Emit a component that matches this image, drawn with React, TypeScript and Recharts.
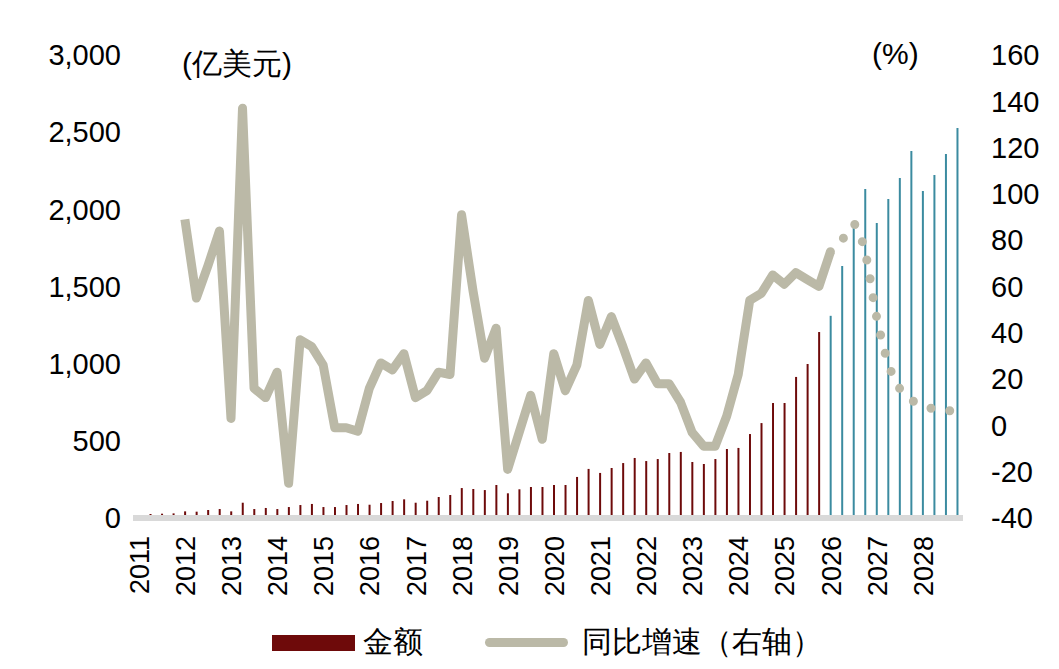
import { ComposedChart, Bar, Line, XAxis, YAxis, Cell } from 'recharts';

const years = ['2011', '2012', '2013', '2014', '2015', '2016', '2017', '2018', '2019', '2020', '2021', '2022', '2023', '2024', '2025', '2026', '2027', '2028'];

// 金额 (亿美元), 2011Q1-2025Q4 actual
const amountActual = [
  20, 26, 28, 30, 43, 41, 52, 58, 43, 99, 58, 65, 58, 71, 84, 91, 71, 71, 84, 91,
  86, 97, 110, 121, 99, 112, 136, 149, 194, 188, 181, 214, 160, 186, 201, 201, 214, 214, 266, 318,
  292, 324, 356, 389, 369, 382, 421, 428, 363, 350, 382, 447, 454, 544, 615, 745, 745, 914, 998, 1205,
];
// 2026Q1-2028Q4 forecast
const amountForecast = [1310, 1633, 1892, 2132, 1912, 2067, 2203, 2378, 2119, 2223, 2359, 2527];

// 同比增速 (%), 2012Q1-2026Q1
const growthActual = [
  89, 55, 69, 84, 3, 137, 16, 12, 23, -25, 37, 34, 26, -1, -1, -2.5, 16, 27, 24, 31,
  12, 15, 23, 22, 91, 58, 29, 42, -19, -3, 13, -6, 31, 15, 26, 54, 35, 47, 34, 20,
  27, 18, 18, 10, -3, -9, -9, 4, 22, 54, 57, 65, 61, 66, 63, 60, 75,
];
// 2026Q1-2028Q4
const growthForecast = [75, 80, 87, 75, 47, 27, 16, 11, 9, 7, 6.5, 6];

const leftTicks = [0, 500, 1000, 1500, 2000, 2500, 3000];
const rightTicks = [-40, -20, 0, 20, 40, 60, 80, 100, 120, 140, 160];

const RED = '#6e0a0a';
const TEAL = '#3b8ba0';
const GRAY = '#bbb9a7';
const FONT = '"Liberation Sans", Arial, sans-serif';

const data = years.flatMap((y, yi) =>
  [1, 2, 3, 4].map((q, qi) => {
    const i = yi * 4 + qi;
    const gi = i - 4;
    const fi = i - 60;
    return {
      q: `${y}Q${q}`,
      amount: i < 60 ? amountActual[i] : amountForecast[fi],
      growth: gi >= 0 && gi < growthActual.length ? growthActual[gi] : null,
      forecast: fi >= 0 ? growthForecast[fi] : null,
    };
  })
);

const xTicks = years.map((y) => `${y}Q1`);

export default function App() {
  return (
    <div style={{ position: 'absolute', left: 0, top: 0, width: 1059, height: 669, background: '#fff', fontFamily: FONT }}>
      <ComposedChart width={1059} height={669} data={data} margin={{ top: 55, right: 0, bottom: 51, left: 0 }}>
        <XAxis
          dataKey="q"
          ticks={xTicks}
          tickFormatter={(v: string) => v.slice(0, 4)}
          interval={0}
          height={100}
          angle={-90}
          textAnchor="end"
          tickLine={false}
          axisLine={{ stroke: '#d9d9d9', strokeWidth: 6 }}
          tick={{ fill: '#000', fontSize: 27, fontFamily: FONT, dx: -9 }}
          tickMargin={12}
        />
        <YAxis
          yAxisId="left"
          domain={[0, 3000]}
          ticks={leftTicks}
          width={133}
          axisLine={false}
          tickLine={false}
          tickFormatter={(v: number) => v.toLocaleString('en-US')}
          tick={{ fill: '#000', fontSize: 29, fontFamily: FONT }}
          tickMargin={6}
        />
        <YAxis
          yAxisId="right"
          orientation="right"
          domain={[-40, 160]}
          ticks={rightTicks}
          width={96}
          axisLine={false}
          tickLine={false}
          tick={{ fill: '#000', fontSize: 29, fontFamily: FONT }}
          tickMargin={22}
        />
        <Bar yAxisId="left" dataKey="amount" barSize={2} isAnimationActive={false}>
          {data.map((_, i) => (
            <Cell key={i} fill={i < 60 ? RED : TEAL} />
          ))}
        </Bar>
        <Line
          yAxisId="right"
          dataKey="growth"
          stroke={GRAY}
          strokeWidth={9}
          strokeLinejoin="round"
          dot={false}
          connectNulls={false}
          isAnimationActive={false}
        />
        <Line
          yAxisId="right"
          type="monotone"
          dataKey="forecast"
          stroke={GRAY}
          strokeWidth={9}
          strokeLinecap="round"
          strokeDasharray="0 19"
          dot={false}
          connectNulls={false}
          isAnimationActive={false}
        />
      </ComposedChart>
      <div style={{ position: 'absolute', left: 182, top: 44, fontSize: 30 }}>(亿美元)</div>
      <div style={{ position: 'absolute', left: 872, top: 37, fontSize: 30 }}>(%)</div>
      <div style={{ position: 'absolute', left: 272, top: 622, display: 'flex', alignItems: 'center', fontSize: 30 }}>
        <span style={{ display: 'inline-block', width: 83, height: 16, background: RED, marginRight: 8 }} />
        <span>金额</span>
        <span style={{ display: 'inline-block', width: 83, height: 9, borderRadius: 5, background: GRAY, marginLeft: 62, marginRight: 14 }} />
        <span>同比增速（右轴）</span>
      </div>
    </div>
  );
}
